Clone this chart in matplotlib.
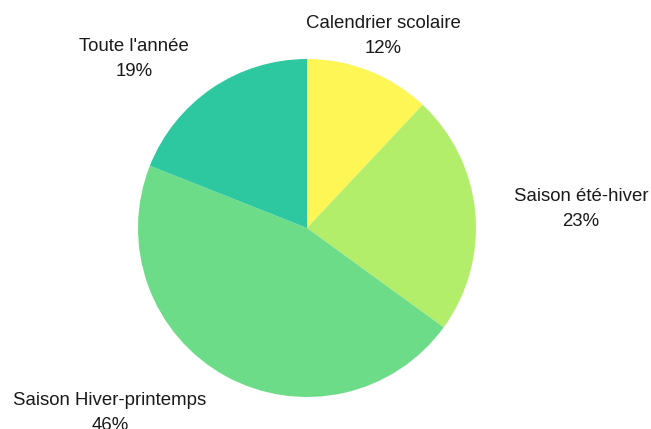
import matplotlib.pyplot as plt

plt.rcParams['font.family'] = ['Liberation Sans', 'DejaVu Sans']

categories = ['Calendrier scolaire', 'Saison été-hiver', 'Saison Hiver-printemps', "Toute l'année"]
values = [12, 23, 46, 19]
colors = ['#FEF654', '#B2EE6A', '#6DDC88', '#2EC8A0']

# label centres in pixel coordinates (x, y from top)
label_pos = [(383, 36), (581, 209), (110, 413), (134, 59)]

W, H = 651, 429
fig = plt.figure(figsize=(W / 100, H / 100), dpi=100)
ax = fig.add_axes([0, 0, 1, 1])

ax.pie(values, colors=colors, startangle=90, counterclock=False,
       center=(307, H - 228), radius=169,
       wedgeprops={'linewidth': 0})

for cat, val, (x, y) in zip(categories, values, label_pos):
    ax.text(x, H - y, f'{cat}\n{val}%', ha='center', va='center',
            fontsize=13.4, linespacing=1.6, color='#1a1a1a')

ax.set_xlim(0, W)
ax.set_ylim(0, H)
ax.set_aspect('equal')
ax.axis('off')

fig.savefig('out.png', dpi=100)
